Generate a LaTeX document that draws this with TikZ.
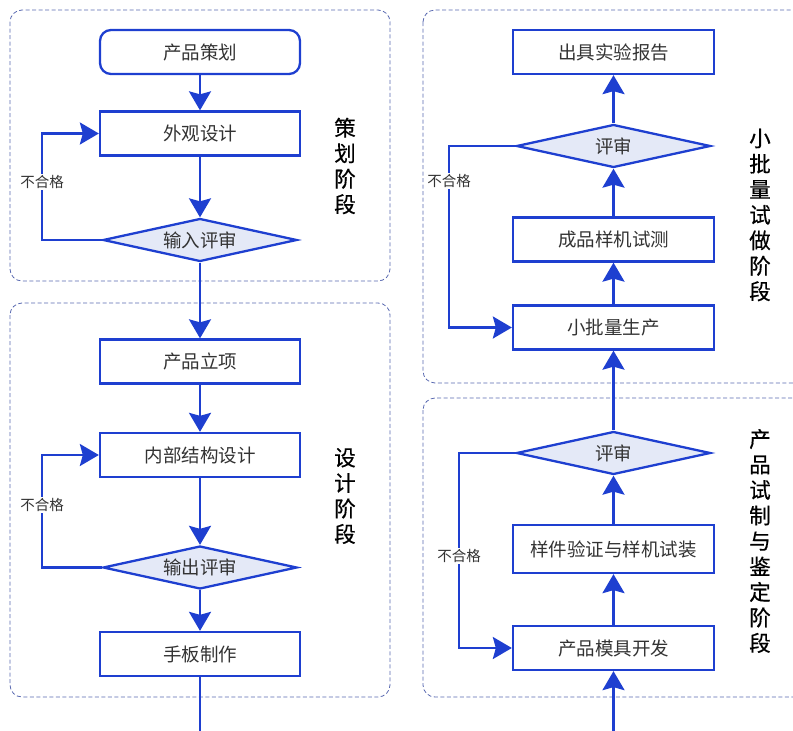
\documentclass[tikz,border=0pt]{standalone}
\usepackage{fontspec}
\setmainfont{Noto Sans CJK SC}
\newfontfamily\stagefont{Noto Sans CJK SC}[FakeBold=0.5]
\usetikzlibrary{shapes.geometric,arrows.meta,calc}
\definecolor{flowblue}{HTML}{1E3FD0}
\definecolor{dfill}{HTML}{E4E9F7}
\definecolor{frame}{HTML}{5868B0}
\definecolor{txt}{HTML}{333333}
\begin{document}
\begin{tikzpicture}[x=1pt,y=-1pt,
  every node/.style={text=txt},
  procbox/.style={draw=flowblue,line width=2.3pt,fill=white,minimum width=200pt,minimum height=44pt,inner sep=0pt,font=\fontsize{18.5pt}{21pt}\selectfont},
  startbox/.style={procbox,rounded corners=11pt},
  decbox/.style={diamond,draw=flowblue,line width=2.3pt,fill=dfill,minimum width=194pt,minimum height=43pt,inner sep=0pt,aspect=4.5,font=\fontsize{18.5pt}{21pt}\selectfont},
  flow/.style={draw=flowblue,line width=2.5pt,-{Stealth[length=19pt,width=22pt,inset=3pt]}},
  flowline/.style={draw=flowblue,line width=2.5pt},
  failtxt/.style={fill=white,inner sep=1pt,font=\fontsize{14.5pt}{16pt}\selectfont},
  stagetxt/.style={align=center,text=black,inner sep=0pt,font=\stagefont\fontsize{21.5pt}{25.5pt}\selectfont},
  stageframe/.style={draw=frame,line width=0.8pt,dash pattern=on 4pt off 2.5pt,rounded corners=12pt}
]
\useasboundingbox (0,0) rectangle (793,731);
% frames
\draw[stageframe] (10,10) rectangle (390,281);
\draw[stageframe] (10,303) rectangle (390,697);
\draw[stageframe] (423,10) rectangle (810,383);
\draw[stageframe] (423,398) rectangle (810,697);

% left column
\node[startbox] (c1) at (200,52) {产品策划};
\node[procbox] (b2) at (200,133.5) {外观设计};
\node[decbox] (d1) at (200,240) {输入评审};
\node[procbox] (p1) at (200,361.5) {产品立项};
\node[procbox] (b4) at (200,455) {内部结构设计};
\node[decbox] (d2) at (200,567.5) {输出评审};
\node[procbox] (b5) at (200,654) {手板制作};
\coordinate (lend) at (200,735);

% right column
\node[procbox,minimum width=201pt] (r1) at (613.5,52) {出具实验报告};
\node[decbox] (rd1) at (613.5,146) {评审};
\node[procbox,minimum width=201pt] (r2) at (613.5,239.5) {成品样机试测};
\node[procbox,minimum width=201pt] (r3) at (613.5,327.5) {小批量生产};
\node[decbox] (rd2) at (613.5,453) {评审};
\node[procbox,minimum width=201pt,minimum height=48pt] (r4) at (613.5,549) {样件验证与样机试装};
\node[procbox,minimum width=201pt] (r5) at (613.5,648) {产品模具开发};
\coordinate (rstart) at (613.5,735);

% connectors left
\draw[flow] (c1) -- (b2);
\draw[flow] (b2) -- (d1);
\draw[flow] (d1.west) -- (42,240) |- (b2.west);
\draw[flow] (d1) -- (p1);
\draw[flow] (p1) -- (b4);
\draw[flow] (b4) -- (d2);
\draw[flow] (d2.west) -- (42,567.5) |- (b4.west);
\draw[flow] (d2) -- (b5);
\draw[flowline] (b5) -- (lend);

% connectors right
\draw[flow] (rstart) -- (r5);
\draw[flow] (r5) -- (r4);
\draw[flow] (r4) -- (rd2);
\draw[flow] (rd2.west) -- (459,453) |- (r5.west);
\draw[flow] (rd2) -- (r3);
\draw[flow] (r3) -- (r2);
\draw[flow] (r2) -- (rd1);
\draw[flow] (rd1) -- (r1);
\draw[flow] (rd1.west) -- (449,146) |- (r3.west);

% fail labels
\node[failtxt] (f1) at (42,182) {不合格};
\node[failtxt] (f2) at (42,505) {不合格};
\node[failtxt] (f3) at (449,181) {不合格};
\node[failtxt] (f4) at (459,556) {不合格};

% stage labels
\node[stagetxt] (s1) at (345,166) {策\\划\\阶\\段};
\node[stagetxt] (s2) at (345,496) {设\\计\\阶\\段};
\node[stagetxt] (s3) at (760,215) {小\\批\\量\\试\\做\\阶\\段};
\node[stagetxt] (s4) at (760,541) {产\\品\\试\\制\\与\\鉴\\定\\阶\\段};
\end{tikzpicture}
\end{document}
